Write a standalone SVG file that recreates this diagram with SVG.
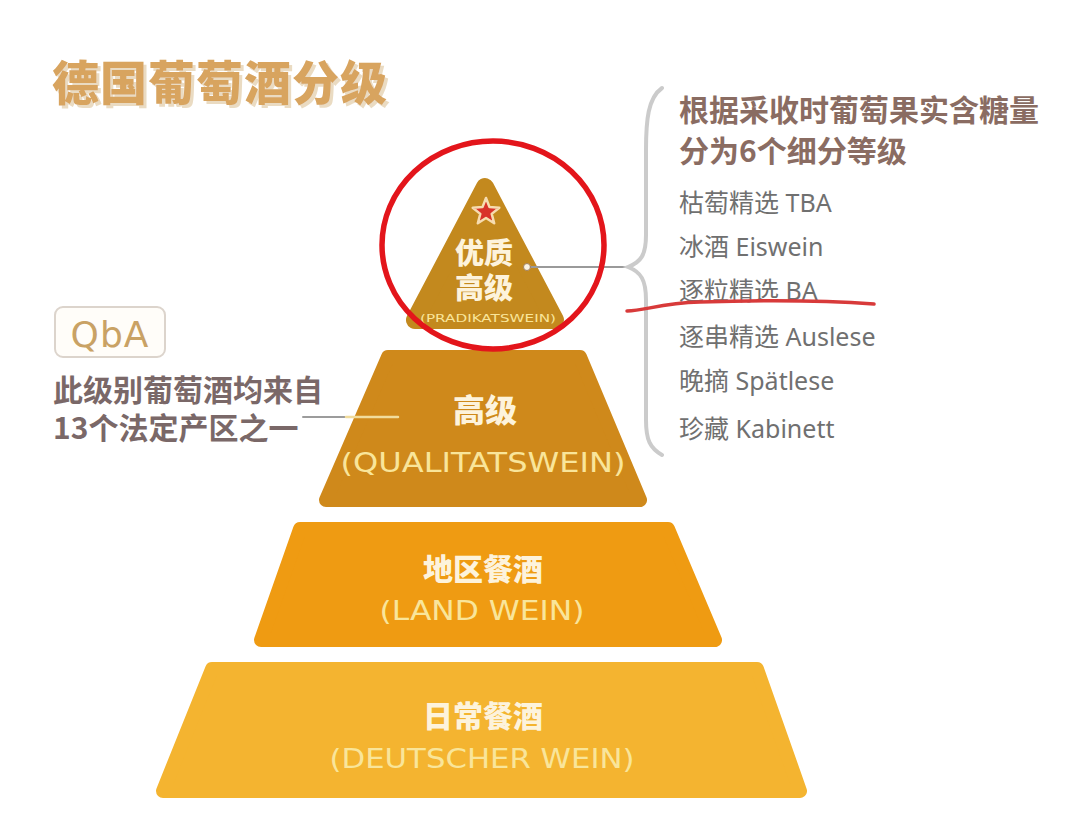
<svg xmlns="http://www.w3.org/2000/svg" width="1080" height="829" viewBox="0 0 1080 829">
<defs>
<style>
.tierT{font-family:"Noto Sans CJK SC",sans-serif;font-weight:900;fill:#fdf3dc;text-anchor:middle;}
.tierS{font-family:"DejaVu Sans","Noto Sans",sans-serif;fill:#f9e59a;text-anchor:middle;}
.item{font-family:"Noto Sans","Noto Sans CJK SC",sans-serif;font-size:25px;fill:#707070;}
.head{font-family:"Noto Sans CJK SC",sans-serif;font-weight:700;font-size:30px;fill:#8a6c62;}
.left{font-family:"Noto Sans CJK SC",sans-serif;font-weight:700;font-size:30px;fill:#7a6868;}
.tier{stroke-linejoin:round;}
</style>
<filter id="tshadow" x="-5%" y="-20%" width="110%" height="150%">
<feOffset in="SourceAlpha" dx="3" dy="3" result="o"/>
<feFlood flood-color="#eadbc2"/>
<feComposite operator="in" in2="o" result="s"/>
<feMerge><feMergeNode in="s"/><feMergeNode in="SourceGraphic"/></feMerge>
</filter>
</defs>
<rect width="1080" height="829" fill="#ffffff"/>

<g id="title">
<text x="52" y="100" font-family="Noto Sans CJK SC,sans-serif" font-weight="900" font-size="47" fill="#d8a45f" letter-spacing="1" filter="url(#tshadow)">德国葡萄酒分级</text>
</g>

<g id="tier4">
<polygon class="tier" points="212,669 757,669 800,791 163,791" fill="#f4b430" stroke="#f4b430" stroke-width="14"/>
<text class="tierT" x="483" y="727" font-size="30">日常餐酒</text>
<text class="tierS" x="482" y="768" font-size="26" textLength="305" lengthAdjust="spacingAndGlyphs">(DEUTSCHER WEIN)</text>
</g>

<g id="tier3">
<polygon class="tier" points="300,529 668,529 715,640 261,640" fill="#ef9b12" stroke="#ef9b12" stroke-width="14"/>
<text class="tierT" x="483" y="580" font-size="30">地区餐酒</text>
<text class="tierS" x="482" y="620" font-size="26" textLength="205" lengthAdjust="spacingAndGlyphs">(LAND WEIN)</text>
</g>

<g id="tier2">
<polygon class="tier" points="388,357 580,357 640,500 326,500" fill="#cf891b" stroke="#cf891b" stroke-width="14"/>
<text class="tierT" x="485" y="422" font-size="32">高级</text>
<text class="tierS" x="483" y="472" font-size="26" textLength="285" lengthAdjust="spacingAndGlyphs">(QUALITATSWEIN)</text>
</g>

<g id="tier1">
<polygon class="tier" points="485,187 415,320 555,320" fill="#c3891e" stroke="#c3891e" stroke-width="18"/>
<polygon points="486,198 489.5,207.1 499.3,207.7 491.7,213.9 494.2,223.3 486,218 477.8,223.3 480.3,213.9 472.7,207.7 482.5,207.1" fill="#d8322a" stroke="#f6dcb0" stroke-width="2.5" stroke-linejoin="round"/>
<text class="tierT" x="484" font-size="29"><tspan x="484" y="264">优质</tspan><tspan x="484" y="299">高级</tspan></text>
<text class="tierS" x="488" y="322" font-size="11" textLength="136" lengthAdjust="spacingAndGlyphs">(PRADIKATSWEIN)</text>
</g>

<g id="qba">
<rect x="55" y="307" width="110" height="50" rx="8" fill="#fffdf9" stroke="#dcd4cc" stroke-width="2"/>
<text x="110" y="347" font-family="DejaVu Sans,sans-serif" font-size="36" fill="#c9a265" text-anchor="middle" letter-spacing="1">QbA</text>
</g>

<g id="left-note">
<text class="left" x="53" y="401">此级别葡萄酒均来自</text>
<text class="left" x="53" y="439">13个法定产区之一</text>
</g>

<g id="right-note">
<text class="head" x="679" y="121">根据采收时葡萄果实含糖量</text>
<text class="head" x="679" y="162">分为6个细分等级</text>
<text class="item" x="679" y="212">枯萄精选 TBA</text>
<text class="item" x="679" y="256">冰酒 Eiswein</text>
<text class="item" x="679" y="300">逐粒精选 BA</text>
<text class="item" x="679" y="346">逐串精选 Auslese</text>
<text class="item" x="679" y="390">晚摘 Spätlese</text>
<text class="item" x="679" y="438">珍藏 Kabinett</text>
</g>

<g id="connectors" fill="none" stroke-linecap="round">
<line x1="303" y1="417" x2="346" y2="417" stroke="#9c9c9c" stroke-width="2"/>
<line x1="346" y1="417" x2="398" y2="417" stroke="#f1dc9c" stroke-width="2.5"/>
<line x1="528" y1="267" x2="628" y2="267" stroke="#9a9a9a" stroke-width="2"/>
<circle cx="527" cy="267" r="3.5" fill="#fbf3e4" stroke="#a08060" stroke-width="1"/>
<path d="M662,88 C648,98 646,120 646,150 L646,235 C646,255 641,262 628,267 C641,272 646,280 646,300 L646,420 C646,440 650,448 662,455" stroke="#cbcbcb" stroke-width="4"/>
</g>

<g id="annotations" fill="none" stroke-linecap="round">
<ellipse cx="493" cy="245" rx="111" ry="104" stroke="#e3151b" stroke-width="5.5"/>
<path d="M627,311 C645,311 660,303 700,302 C760,300 820,300 874,304" stroke="#d83a3a" stroke-width="3.5"/>
</g>
</svg>
